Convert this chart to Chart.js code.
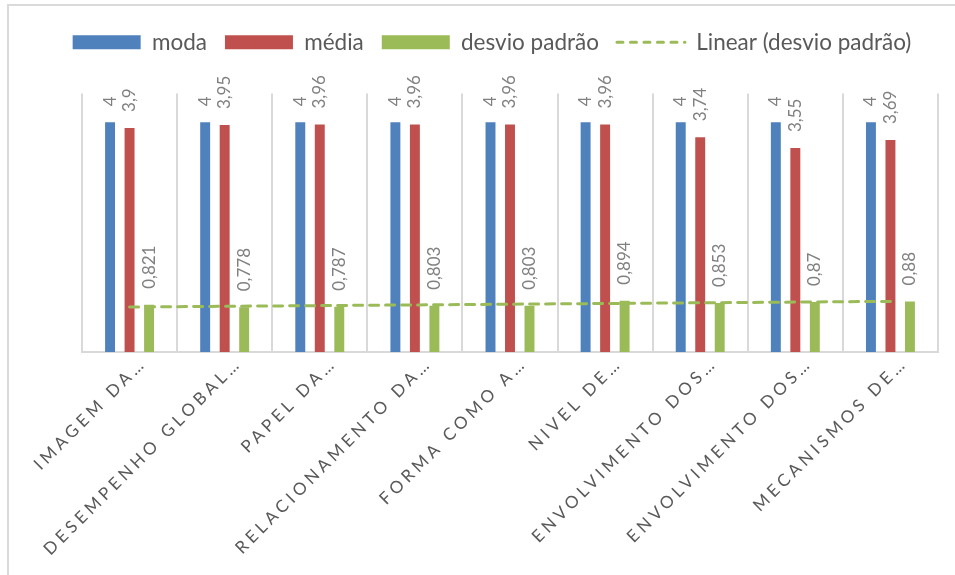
<!DOCTYPE html>
<html>
<head>
<meta charset="utf-8">
<script src="https://cdn.jsdelivr.net/npm/chart.js@4/dist/chart.umd.min.js"></script>
<style>
  html, body { margin: 0; padding: 0; background: #fff; overflow: hidden; }
  #wrap { position: relative; width: 955px; height: 575px; }
  #frame { position: absolute; left: 7px; top: 4px; width: 2000px; height: 2000px;
           border-left: 2px solid #dadada; border-top: 2px solid #dadada; }
  #chart { position: absolute; left: 0; top: 0; }
</style>
</head>
<body>
<div id="wrap">
  <div id="frame"></div>
  <canvas id="chart" width="955" height="575"></canvas>
</div>
<script>
// valores
const categories = [
  "IMAGEM DA…",
  "DESEMPENHO GLOBAL…",
  "PAPEL DA…",
  "RELACIONAMENTO DA…",
  "FORMA COMO A…",
  "NIVEL DE…",
  "ENVOLVIMENTO DOS…",
  "ENVOLVIMENTO DOS…",
  "MECANISMOS DE…"
];
const moda = [4, 4, 4, 4, 4, 4, 4, 4, 4];
const media = [3.9, 3.95, 3.96, 3.96, 3.96, 3.96, 3.74, 3.55, 3.69];
const desvio = [0.821, 0.778, 0.787, 0.803, 0.803, 0.894, 0.853, 0.87, 0.88];

const FONT = "Lato";

// linha de tendência linear (mínimos quadrados) sobre o desvio padrão
function linearTrend(values) {
  const n = values.length;
  const mx = (n - 1) / 2;
  const my = values.reduce((a, b) => a + b, 0) / n;
  let sxy = 0, sxx = 0;
  values.forEach((v, i) => {
    sxy += (i - mx) * (v - my);
    sxx += (i - mx) * (i - mx);
  });
  const slope = sxy / sxx;
  return values.map((v, i) => my + slope * (i - mx));
}

//
// ===== rótulos de dados verticais =====
//
const barLabels = {
  id: "barLabels",
  afterDatasetsDraw(chart) {
    const ctx = chart.ctx;
    ctx.save();
    ctx.font = "17px " + FONT;
    ctx.fillStyle = "#808080";
    ctx.textAlign = "left";
    ctx.textBaseline = "middle";
    chart.data.datasets.forEach((ds, i) => {
      if (ds.type === "line") return;
      chart.getDatasetMeta(i).data.forEach((bar, j) => {
        ctx.save();
        ctx.translate(bar.x, bar.y - 16);
        ctx.rotate(-Math.PI / 2);
        ctx.fillText(String(ds.data[j]).replace(".", ","), 0, 0);
        ctx.restore();
      });
    });
    ctx.restore();
  }
};

//
// ===== espaçamento de letras no eixo X + espaço abaixo da legenda =====
//
const tweaks = {
  id: "tweaks",
  afterInit(chart) {
    const lg = chart.legend;
    const fit = lg.fit;
    lg.fit = function () {
      fit.call(this);
      this.height += 30;
    };
  },
  beforeDraw(chart) {
    const sc = chart.scales.x;
    if (sc._spaced) return;
    const orig = sc.drawLabels;
    sc.drawLabels = function (area) {
      this.ctx.save();
      this.ctx.letterSpacing = "4px";
      orig.call(this, area);
      this.ctx.restore();
    };
    sc._spaced = true;
  }
};

function legendLabels(chart) {
  const items = Chart.defaults.plugins.legend.labels.generateLabels(chart);
  items.sort((a, b) => a.datasetIndex - b.datasetIndex);
  items.forEach(it => {
    const ds = chart.data.datasets[it.datasetIndex];
    if (ds.type === "line") {
      it.lineDash = [6, 7.5];
      it.lineCap = "round";
      it.lineWidth = 3;
      it.strokeStyle = ds.borderColor;
    }
  });
  return items;
}

const ctx = document.getElementById("chart");

new Chart(ctx, {
  type: "bar",
  data: {
    labels: categories,
    datasets: [
      {
        label: "moda",
        data: moda,
        backgroundColor: "#4F81BD",
        borderWidth: 0,
        pointStyle: "rect",
        order: 1
      },
      {
        label: "média",
        data: media,
        backgroundColor: "#C0504D",
        borderWidth: 0,
        pointStyle: "rect",
        order: 1
      },
      {
        label: "desvio padrão",
        data: desvio,
        backgroundColor: "#9BBB59",
        borderWidth: 0,
        pointStyle: "rect",
        order: 1
      },
      {
        type: "line",
        label: "Linear (desvio padrão)",
        data: linearTrend(desvio),
        borderColor: "#9BBB59",
        backgroundColor: "#9BBB59",
        borderWidth: 3,
        borderDash: [9, 7],
        borderCapStyle: "round",
        pointRadius: 0,
        pointStyle: "line",
        fill: false,
        tension: 0,
        order: 0
      }
    ]
  },
  options: {
    responsive: false,
    animation: false,
    layout: {
      padding: { left: 46, right: 17, top: 13, bottom: 0 }
    },
    datasets: {
      bar: {
        categoryPercentage: 0.615,
        barPercentage: 0.51
      }
    },
    plugins: {
      legend: {
        position: "top",
        labels: {
          usePointStyle: true,
          pointStyleWidth: 68,
          boxHeight: 14,
          padding: 18,
          color: "#595959",
          font: { family: FONT, size: 22.5 },
          generateLabels: legendLabels
        }
      },
      tooltip: { enabled: false }
    },
    scales: {
      x: {
        grid: {
          color: "#d9d9d9",
          lineWidth: 2,
          drawTicks: false,
          offset: true
        },
        border: { color: "#d9d9d9", width: 2 },
        ticks: {
          color: "#595959",
          font: { family: FONT, size: 17 },
          minRotation: 45,
          maxRotation: 45,
          autoSkip: false,
          padding: 1,
          labelOffset: 14
        },
        afterFit(scale) {
          scale.height = 575 - 352;
          scale.paddingLeft = 0;
          scale.paddingRight = 0;
        }
      },
      y: {
        min: 0,
        max: 4.5,
        ticks: { display: false },
        grid: { display: false },
        border: { display: false },
        afterFit(scale) {
          scale.width = 36;
        }
      }
    }
  },
  plugins: [barLabels, tweaks]
});
</script>
</body>
</html>
